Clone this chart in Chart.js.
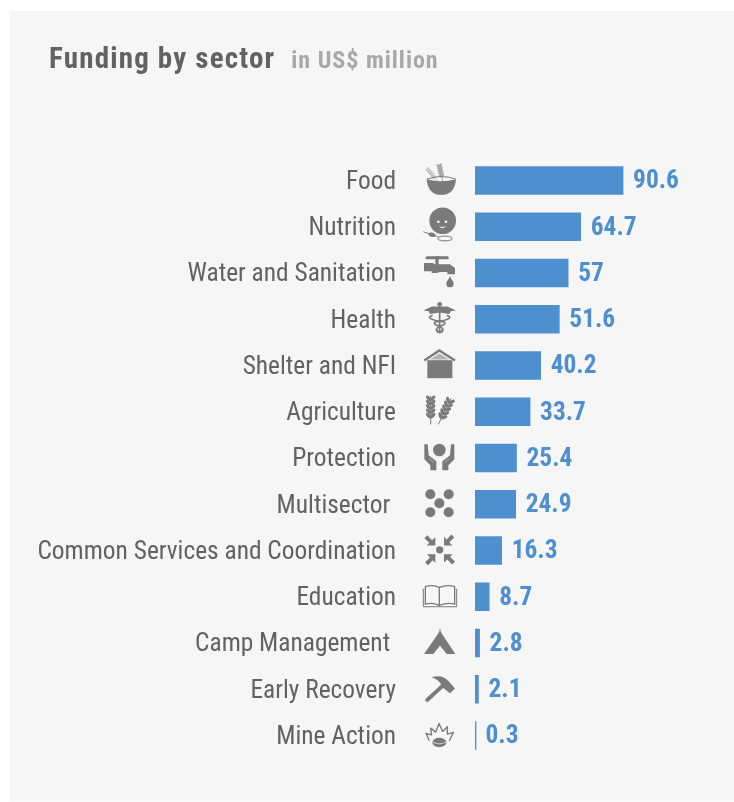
<!DOCTYPE html>
<html lang="en">
<head>
    <script src="https://cdn.jsdelivr.net/npm/chart.js"></script>
    <title>Funding by sector</title>
    <style>
        html, body { margin: 0; padding: 0; background: white; }
        #wrap { position: relative; width: 734px; height: 802px; overflow: hidden; }
        #card { position: absolute; left: 10px; top: 11px; width: 724px; height: 790px; background: #f6f6f6; }
        #chart { position: absolute; left: 0; top: 0; }
        #title { position: absolute; left: 49px; top: 41px; font-family: Roboto; font-stretch: condensed; font-weight: bold; font-size: 29px; letter-spacing: 1.2px; color: #626262; white-space: nowrap; }
        #title span { font-size: 24px; letter-spacing: 1px; color: #a8a8a8; margin-left: 8px; }
    </style>
</head>
<body>
    <div id="wrap">
        <div id="card"></div>
        <canvas id="chart" width="734" height="802"></canvas>
        <div id="title">Funding by sector <span>in US$ million</span></div>
    </div>
    <script>
        var sectors = ["Food", "Nutrition", "Water and Sanitation", "Health", "Shelter and NFI", "Agriculture", "Protection", "Multisector ", "Common Services and Coordination", "Education", "Camp Management ", "Early Recovery", "Mine Action"];
        var funding = [90.6, 64.7, 57, 51.6, 40.2, 33.7, 25.4, 24.9, 16.3, 8.7, 2.8, 2.1, 0.3];

        var grey = "#7a7a7a";
        var blue = "#4e8fcf";

        function poly(c, pts) {
            c.beginPath();
            pts.forEach(function(p, i) {
                if (i == 0) c.moveTo(p[0], p[1]); else c.lineTo(p[0], p[1]);
            });
            c.closePath();
            c.fill();
        }
        function line(c, x1, y1, x2, y2, w) {
            c.lineWidth = w;
            c.beginPath();
            c.moveTo(x1, y1);
            c.lineTo(x2, y2);
            c.stroke();
        }
        function dot(c, x, y, r) {
            c.beginPath();
            c.arc(x, y, r, 0, Math.PI * 2);
            c.fill();
        }
        function stalk(c, x1, y1, x2, y2, rx, ry) {
            line(c, x1, y1, x2, y2, 3);
            var a = Math.atan2(y2 - y1, x2 - x1);
            for (var i = 0; i < 5; i++) {
                var t = 0.22 + i * 0.15;
                var x = x1 + (x2 - x1) * t, y = y1 + (y2 - y1) * t;
                [-0.7, 0.7].forEach(function(s) {
                    c.save();
                    c.translate(x, y);
                    c.rotate(a + s);
                    c.beginPath();
                    c.ellipse(rx, 0, rx, ry, 0, 0, Math.PI * 2);
                    c.fill();
                    c.restore();
                });
            }
        }

        // icons are drawn in thirds of a pixel around the row centre
        var icons = [
            function(c) {
                c.fillStyle = "#c4c4c4";
                c.strokeStyle = "#c4c4c4";
                stalk(c, -8, 2, -40, -38, 5, 3);
                c.fillStyle = "#a2a2a2";
                c.strokeStyle = "#a2a2a2";
                stalk(c, 8, 2, -3, -50, 6, 3);
                c.fillStyle = grey;
                c.strokeStyle = grey;
                c.beginPath();
                c.moveTo(-40, -4);
                c.quadraticCurveTo(-36, 43, 4, 43);
                c.quadraticCurveTo(44, 43, 48, -4);
                c.quadraticCurveTo(4, 8, -40, -4);
                c.fill();
                c.lineWidth = 3;
                c.beginPath();
                c.moveTo(-40, -4);
                c.quadraticCurveTo(4, -20, 48, -4);
                c.stroke();
            },
            function(c) {
                dot(c, 8, -18, 40);
                c.fillStyle = "#f6f6f6";
                dot(c, -5, -15, 4);
                dot(c, 18, -15, 4);
                c.beginPath();
                c.moveTo(-3, -3);
                c.quadraticCurveTo(7, 4, 19, -3);
                c.quadraticCurveTo(7, 12, -3, -3);
                c.fill();
                c.fillStyle = grey;
                line(c, -50, 15, -5, 30, 3);
                c.beginPath();
                c.ellipse(-24, 24, 11, 6, 0.3, 0, Math.PI * 2);
                c.fill();
                c.strokeStyle = "#9a9a9a";
                c.lineWidth = 4;
                c.beginPath();
                c.ellipse(15, 35, 21, 7, 0, 0, Math.PI * 2);
                c.stroke();
            },
            function(c) {
                c.lineCap = "round";
                line(c, -39, -46, 22, -46, 9);
                line(c, -9, -46, -9, -26, 10);
                c.lineCap = "butt";
                poly(c, [[-48, -30], [-22, -30], [-15, -26], [30, -26], [45, -15], [45, 4], [22, 4], [22, -3], [0, -3], [-10, 0], [-25, 0], [-25, -5], [-48, -5]]);
                c.beginPath();
                c.moveTo(30, 9);
                c.bezierCurveTo(34, 20, 41, 25, 41, 32);
                c.arc(30, 32, 11, 0, Math.PI);
                c.bezierCurveTo(19, 25, 26, 20, 30, 9);
                c.fill();
            },
            function(c) {
                dot(c, -1, -45, 7);
                poly(c, [[-1, -38], [-24, -38], [-50, -26], [-34, -24], [-30, -16], [-1, -20]]);
                poly(c, [[-1, -38], [22, -38], [48, -26], [32, -24], [28, -16], [-1, -20]]);
                line(c, -1, -40, -1, 42, 5);
                c.lineWidth = 5;
                c.beginPath();
                c.moveTo(-22, -12);
                c.bezierCurveTo(-42, -6, -30, 2, 12, 8);
                c.bezierCurveTo(24, 16, -6, 20, -10, 28);
                c.bezierCurveTo(-14, 40, 4, 44, 6, 32);
                c.stroke();
                c.beginPath();
                c.moveTo(20, -12);
                c.bezierCurveTo(40, -6, 28, 2, -14, 8);
                c.bezierCurveTo(-26, 16, 4, 20, 8, 28);
                c.bezierCurveTo(12, 40, -6, 44, -8, 32);
                c.stroke();
            },
            function(c) {
                c.lineWidth = 7;
                c.beginPath();
                c.moveTo(-47, -15);
                c.lineTo(-2, -45);
                c.lineTo(45, -15);
                c.stroke();
                c.fillStyle = "#b0b0b0";
                poly(c, [[-30, -18], [-2, -36], [28, -18]]);
                c.fillStyle = grey;
                poly(c, [[-38, -16], [37, -16], [37, 38], [-38, 38]]);
            },
            function(c) {
                stalk(c, -28, 38, -28, -48, 10, 5);
                stalk(c, -5, 38, 33, -40, 10, 5);
            },
            function(c) {
                dot(c, -2, -24, 19);
                [1, -1].forEach(function(s) {
                    var m = function(p) { return [-2 + s * p[0], p[1]]; };
                    poly(c, [[-45, -41], [-35, -41], [-32, -8], [-9, 10], [-9, 37], [-27, 37], [-27, 22], [-45, 4]].map(m));
                });
                c.strokeStyle = "#d0d0d0";
                line(c, -32, 2, -18, 14, 2);
                line(c, 28, 2, 14, 14, 2);
            },
            function(c) {
                dot(c, -29, -30, 15);
                dot(c, 26, -30, 15);
                dot(c, -2, -3, 15);
                dot(c, -29, 24, 15);
                dot(c, 26, 24, 15);
            },
            function(c) {
                dot(c, -1, -2, 11);
                for (var i = 0; i < 4; i++) {
                    c.save();
                    c.translate(-1, -2);
                    c.rotate(i * Math.PI / 2);
                    poly(c, [[-13, -13], [-13, -38], [-23, -29], [-37, -44], [-46, -35], [-31, -21], [-39, -13]]);
                    c.restore();
                }
            },
            function(c) {
                c.lineWidth = 4;
                c.beginPath();
                c.moveTo(-2, -28);
                c.quadraticCurveTo(-22, -38, -44, -30);
                c.lineTo(-44, 22);
                c.quadraticCurveTo(-22, 16, -2, 26);
                c.quadraticCurveTo(22, 16, 44, 22);
                c.lineTo(44, -30);
                c.quadraticCurveTo(22, -38, -2, -28);
                c.lineTo(-2, 26);
                c.stroke();
                c.lineWidth = 3;
                c.beginPath();
                c.moveTo(-50, -24);
                c.lineTo(-50, 30);
                c.lineTo(50, 30);
                c.lineTo(50, -24);
                c.stroke();
            },
            function(c) {
                line(c, -4, -42, 4, -30, 2);
                line(c, 4, -42, -4, -30, 2);
                poly(c, [[0, -36], [46, 33], [20, 33], [0, 8], [-20, 33], [-48, 33]]);
            },
            function(c) {
                c.lineCap = "round";
                line(c, -38, 32, 14, -16, 12);
                c.lineCap = "butt";
                c.beginPath();
                c.moveTo(-25, -36);
                c.quadraticCurveTo(8, -46, 28, -22);
                c.lineTo(45, -2);
                c.lineTo(30, 12);
                c.lineTo(10, -4);
                c.lineTo(4, -14);
                c.quadraticCurveTo(-6, -30, -25, -36);
                c.fill();
            },
            function(c) {
                c.beginPath();
                c.ellipse(-2, 21, 21, 14, 0, 0, Math.PI * 2);
                c.fill();
                c.strokeStyle = "#f6f6f6";
                c.lineWidth = 2;
                c.beginPath();
                c.moveTo(-22, 20);
                c.quadraticCurveTo(-2, 30, 18, 20);
                c.stroke();
                c.strokeStyle = grey;
                c.lineWidth = 4;
                c.lineJoin = "round";
                c.beginPath();
                c.moveTo(-32, 16);
                c.lineTo(-42, -6);
                c.lineTo(-25, -2);
                c.lineTo(-28, -22);
                c.lineTo(-13, -10);
                c.lineTo(-3, -36);
                c.lineTo(8, -12);
                c.lineTo(22, -26);
                c.lineTo(22, -4);
                c.lineTo(40, -9);
                c.lineTo(28, 16);
                c.stroke();
            }
        ];

        var extras = {
            id: "extras",
            afterDatasetsDraw: function(chart) {
                var c = chart.ctx;
                var y = chart.scales.y;
                var x = chart.scales.x;
                funding.forEach(function(v, i) {
                    var yc = y.getPixelForValue(i);
                    c.save();
                    c.textBaseline = "middle";
                    c.font = "condensed 25.4px Roboto";
                    c.fillStyle = "#626262";
                    c.textAlign = "right";
                    c.fillText(sectors[i], 396, yc + 2);
                    c.font = "bold condensed 25.4px Roboto";
                    c.fillStyle = blue;
                    c.textAlign = "left";
                    c.fillText(String(v), x.getPixelForValue(v) + 10, yc + 1.5);
                    c.restore();

                    c.save();
                    c.translate(440, yc);
                    c.scale(1 / 3, 1 / 3);
                    c.fillStyle = grey;
                    c.strokeStyle = grey;
                    icons[i](c);
                    c.restore();
                });
            }
        };

        new Chart(document.getElementById("chart").getContext("2d"), {
            type: "bar",
            data: {
                labels: sectors,
                datasets: [{
                    data: funding,
                    backgroundColor: blue,
                    barThickness: 28,
                    minBarLength: 1
                }]
            },
            options: {
                indexAxis: "y",
                responsive: false,
                animation: false,
                layout: { padding: { left: 475, right: 0, top: 157.4, bottom: 43.4 } },
                plugins: { legend: { display: false }, tooltip: { enabled: false } },
                scales: {
                    x: { display: false, min: 0, max: 158.5 },
                    y: { display: false }
                }
            },
            plugins: [extras]
        });
    </script>
</body>
</html>
